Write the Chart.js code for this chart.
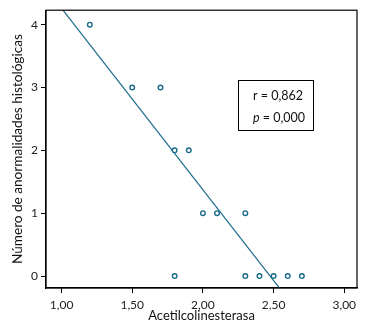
<!DOCTYPE html>
<html>
<head>
<meta charset="utf-8">
<script src="https://cdn.jsdelivr.net/npm/chart.js@4"></script>
<style>
html,body{margin:0;padding:0;background:#fff;}
#wrap{width:368px;height:333px;}
</style>
</head>
<body>
<div id="wrap"><canvas id="c" width="368" height="333"></canvas></div>
<script>
// Data
const acetilX = [1.2, 1.5, 1.7, 1.8, 1.9, 2.0, 2.1, 2.3, 1.8, 2.3, 2.4, 2.5, 2.6, 2.7];
const anormalY = [4, 3, 3, 2, 2, 1, 1, 1, 0, 0, 0, 0, 0, 0];
const fitLineX = [1.0, 2.6];
const fitLineY = [4.26, -0.36];
const xTicks = [1.0, 1.5, 2.0, 2.5, 3.0];
const yTicks = [0, 1, 2, 3, 4];
const statLabels = ['r', 'p'];
const statValues = ['0,862', '0,000'];
const xTitle = 'Acetilcolinesterasa';
const yTitle = 'Número de anormalidades histológicas';

const teal = '#1b6b8c';
const FONT = 'Lato';

const scatterData = acetilX.map((x, i) => ({x: x, y: anormalY[i]}));
const lineData = fitLineX.map((x, i) => ({x: x, y: fitLineY[i]}));

const boxPlugin = {
  id: 'boxPlugin',
  afterDatasetsDraw(chart) {
    const ctx = chart.ctx;
    const a = chart.chartArea;
    ctx.save();
    ctx.strokeStyle = '#000';
    ctx.lineWidth = 1.2;
    ctx.strokeRect(a.left, a.top, a.right - a.left, a.bottom - a.top);
    // stats box
    const bx = 238.5, by = 80.5, bw = 75, bh = 50;
    ctx.fillStyle = '#fff';
    ctx.fillRect(bx, by, bw, bh);
    ctx.lineWidth = 1;
    ctx.strokeRect(bx, by, bw, bh);
    ctx.fillStyle = '#111';
    ctx.textBaseline = 'middle';
    ctx.textAlign = 'left';
    const ys = [96, 118];
    statLabels.forEach((lab, i) => {
      ctx.font = (i === 1 ? 'italic ' : '') + '12.5px ' + FONT;
      ctx.fillText(lab, 253, ys[i]);
      const w = ctx.measureText(lab).width;
      ctx.font = '12.5px ' + FONT;
      ctx.fillText(' = ' + statValues[i], 253 + w, ys[i]);
    });
    ctx.restore();
  }
};

new Chart(document.getElementById('c'), {
  type: 'scatter',
  data: {
    datasets: [
      {
        data: scatterData,
        pointRadius: 2.3,
        pointBorderWidth: 1.4,
        pointBorderColor: teal,
        pointBackgroundColor: '#fff',
        showLine: false
      },
      {
        type: 'line',
        data: lineData,
        borderColor: teal,
        borderWidth: 1.2,
        pointRadius: 0,
        fill: false,
        clip: 0
      }
    ]
  },
  options: {
    responsive: false,
    animation: false,
    devicePixelRatio: 1,
    layout: {padding: {left: 0, right: 11, top: 8, bottom: 4}},
    plugins: {legend: {display: false}, tooltip: {enabled: false}},
    scales: {
      x: {
        type: 'linear',
        min: 0.89, max: 3.09,
        afterBuildTicks: s => { s.ticks = xTicks.map(v => ({value: v})); },
        afterFit: s => { s.height = 41; },
        grid: {display: true, drawOnChartArea: false, tickLength: 5, color: '#000', lineWidth: 1},
        border: {display: true, color: '#000', width: 1.2},
        ticks: {
          color: '#222', padding: 5,
          font: {family: FONT, size: 12},
          maxRotation: 0,
          callback: v => v.toFixed(2).replace('.', ',')
        },
        title: {display: true, text: xTitle, color: '#111', font: {family: FONT, size: 13}, padding: {top: 2, bottom: 5}}
      },
      y: {
        type: 'linear',
        min: -0.19, max: 4.23,
        afterBuildTicks: s => { s.ticks = yTicks.map(v => ({value: v})); },
        afterFit: s => { s.width = 46; },
        grid: {display: true, drawOnChartArea: false, tickLength: 5, color: '#000', lineWidth: 1},
        border: {display: true, color: '#000', width: 1.2},
        ticks: {
          color: '#222', padding: 3,
          font: {family: FONT, size: 12},
          callback: v => String(v)
        },
        title: {display: true, text: yTitle, color: '#111', font: {family: FONT, size: 13.6}, padding: {top: 9, bottom: 0}}
      }
    }
  },
  plugins: [boxPlugin]
});
</script>
</body>
</html>
